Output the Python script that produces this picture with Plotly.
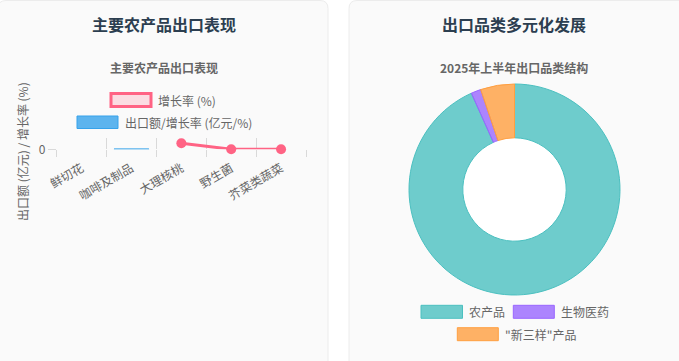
import plotly.graph_objects as go

# ---------------- data ----------------
categories = ["鲜切花", "咖啡及制品", "大理核桃", "野生菌", "芥菜类蔬菜"]
bar_values = [0.01, 0.6, None, None, None]          # 出口额/增长率 (亿元/%)
growth_values = [None, None, 10.9, 0.2, 0.05]       # 增长率 (%)
y_ticks = [0]

pie_labels = ["农产品", "生物医药", "\"新三样\"产品"]
pie_values = [93.3, 1.5, 5.2]

W, H = 679, 361
def X(px): return px / W
def Y(py): return 1 - py / H

FONT = "Noto Sans CJK SC, Noto Sans, sans-serif"
GRID = "rgba(0,0,0,0.13)"
TXT = "#666666"

fig = go.Figure()

fig.add_trace(go.Bar(
    x=categories, y=bar_values, width=0.7,
    marker=dict(color="rgba(54,162,235,0.8)",
                line=dict(color="rgb(54,162,235)", width=[0, 1, 0, 0, 0])),
    showlegend=False, xaxis="x", yaxis="y"))
fig.add_trace(go.Scatter(
    x=categories, y=growth_values, mode="lines+markers",
    line=dict(color="#ff6384", width=3),
    marker=dict(color="#ff6384", size=10),
    cliponaxis=False, connectgaps=False, showlegend=False, xaxis="x", yaxis="y"))

pie_fill = ["rgba(75,192,192,0.8)", "rgba(153,102,255,0.8)", "rgba(255,159,64,0.8)"]
pie_line = ["rgb(75,192,192)", "rgb(153,102,255)", "rgb(255,159,64)"]
fig.add_trace(go.Pie(
    labels=pie_labels, values=pie_values, sort=False, direction="clockwise",
    rotation=0, hole=0.49, textinfo="none", hoverinfo="label+value",
    marker=dict(colors=pie_fill, line=dict(color=pie_line, width=1)),
    domain=dict(x=[X(409), X(620)], y=[Y(295), Y(84)]), showlegend=False))

def card_path(x0, x1, y0, y1, r=8):
    return (f"M {X(x0)} {Y(y0+r)} Q {X(x0)} {Y(y0)} {X(x0+r)} {Y(y0)} "
            f"L {X(x1-r)} {Y(y0)} Q {X(x1)} {Y(y0)} {X(x1)} {Y(y0+r)} "
            f"L {X(x1)} {Y(y1)} L {X(x0)} {Y(y1)} Z")

shapes = [
    dict(type="path", xref="paper", yref="paper", path=card_path(-2, 328, 0.5, 365),
         fillcolor="#fafafa", line=dict(color="#ececec", width=1), layer="below"),
    dict(type="path", xref="paper", yref="paper", path=card_path(349, 690, 0.5, 365),
         fillcolor="#fafafa", line=dict(color="#ececec", width=1), layer="below"),
    dict(type="circle", xref="paper", yref="paper",
         x0=X(514.5 - 52), x1=X(514.5 + 52), y0=Y(189.5 + 52), y1=Y(189.5 - 52),
         fillcolor="#ffffff", line=dict(width=0), layer="below"),
]

annotations = []
def text(x, y, s, size=12, color=TXT, xanchor="left", bold=False, angle=0):
    annotations.append(dict(x=X(x), y=Y(y), xref="paper", yref="paper", text=(f"<b>{s}</b>" if bold else s),
                            showarrow=False, xanchor=xanchor, yanchor="middle", textangle=angle,
                            font=dict(family=FONT, size=size, color=color)))

def legend_box(x0, y0, x1, y1, fill, border, bw):
    shapes.append(dict(type="rect", xref="paper", yref="paper", x0=X(x0), x1=X(x1), y0=Y(y1), y1=Y(y0),
                       fillcolor=fill, line=dict(color=border, width=bw), layer="above"))

# titles
text(164, 24, "主要农产品出口表现", size=16, color="#2c3e50", xanchor="center", bold=True)
text(514, 24, "出口品类多元化发展", size=16, color="#2c3e50", xanchor="center", bold=True)
text(164, 67, "主要农产品出口表现", size=12, color=TXT, xanchor="center", bold=True)
text(514, 67, "2025年上半年出口品类结构", size=12, color=TXT, xanchor="center", bold=True)

# left legend
legend_box(111, 93.5, 151, 106.5, "rgba(255,99,132,0.2)", "#ff6384", 3)
text(156, 100, "增长率 (%)")
legend_box(77, 116, 118, 128.5, "rgba(54,162,235,0.8)", "rgb(54,162,235)", 1)
text(123, 122, "出口额/增长率 (亿元/%)")

# y axis title
text(22, 152, "出口额 (亿元) / 增长率 (%)", angle=-90, xanchor="center")

# right legend
legend_box(421, 305.3, 462.5, 318.3, pie_fill[0], pie_line[0], 1)
text(467, 311.8, pie_labels[0])
legend_box(513.3, 305.3, 554.3, 318.3, pie_fill[1], pie_line[1], 1)
text(559, 311.8, pie_labels[1])
legend_box(457.3, 327.7, 498.3, 340.7, pie_fill[2], pie_line[2], 1)
text(503, 334.2, pie_labels[2])

fig.update_layout(
    width=W, height=H, margin=dict(l=0, r=0, t=0, b=0, pad=0, autoexpand=False),
    paper_bgcolor="#ffffff", plot_bgcolor="rgba(0,0,0,0)",
    font=dict(family=FONT, size=12, color=TXT),
    shapes=shapes, annotations=annotations, bargap=0.3,
    xaxis=dict(domain=[X(56.7), X(306)], type="category", categoryorder="array",
               categoryarray=categories, range=[-0.5, 4.5], tickson="boundaries",
               ticks="outside", ticklen=7, tickcolor=GRID, showgrid=True, gridcolor=GRID,
               gridwidth=1, tickangle=-30, zeroline=False, showline=False, automargin=False,
               ticklabelstandoff=9,
               tickfont=dict(family=FONT, size=12, color=TXT)),
    yaxis=dict(domain=[Y(149.3), Y(138.3)], range=[0, 20], tickvals=y_ticks,
               ticktext=[str(v) for v in y_ticks], ticks="outside", ticklen=8, tickcolor=GRID,
               showgrid=True, gridcolor=GRID, zeroline=False, showline=False, automargin=False,
               tickfont=dict(family=FONT, size=12, color=TXT)),
)

fig.write_html("out.html")
